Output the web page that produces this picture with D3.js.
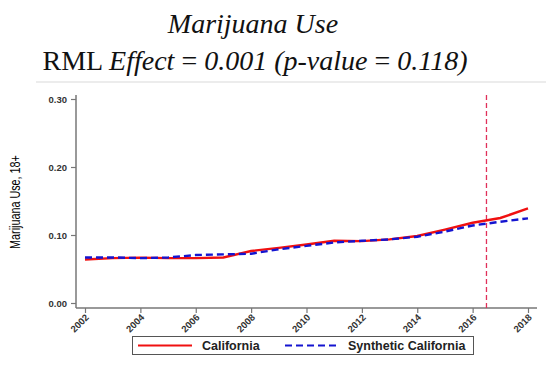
<!DOCTYPE html>
<html>
<head>
<meta charset="utf-8">
<script src="https://cdn.jsdelivr.net/npm/d3@7"></script>
<style>
  html, body { margin: 0; padding: 0; background: #fff; }
  svg { display: block; }
  .ttl { font-family: "Liberation Serif", "Times New Roman", serif; }
</style>
</head>
<body>
<svg id="chart" width="546" height="366"></svg>
<script>
// Annual marijuana use (18+), California vs. synthetic control
const years = d3.range(2002, 2019);
const california = [0.064, 0.066, 0.0667, 0.066, 0.066, 0.067, 0.0765, 0.081, 0.086, 0.0915, 0.091, 0.0935, 0.0985, 0.108, 0.118, 0.125, 0.139];
const synthetic  = [0.067, 0.067, 0.066, 0.067, 0.0705, 0.0715, 0.0725, 0.079, 0.084, 0.089, 0.0915, 0.0935, 0.0975, 0.105, 0.114, 0.1195, 0.1245];
const yTicks = [0, 0.1, 0.2, 0.3];
const xTicks = [2002, 2004, 2006, 2008, 2010, 2012, 2014, 2016, 2018];
const treatmentYear = 2016.5;
const seriesNames = ["California", "Synthetic California"];

const svg = d3.select("#chart");

// Title
const title = svg.append("g")
  .attr("class", "ttl")
  .attr("fill", "#111")
  .attr("text-anchor", "middle");
title.append("text")
  .attr("x", 253).attr("y", 33)
  .attr("font-size", 28).attr("font-style", "italic")
  .text("Marijuana Use");
const t2 = title.append("text")
  .attr("x", 255).attr("y", 70)
  .attr("font-size", 28);
t2.append("tspan").text("RML ");
t2.append("tspan").attr("font-style", "italic").text("Effect ");
t2.append("tspan").text("= ");
t2.append("tspan").attr("font-style", "italic").text("0.001 (p-value ");
t2.append("tspan").text("= ");
t2.append("tspan").attr("font-style", "italic").text("0.118)");

// Faint separator under the title
svg.append("line")
  .attr("x1", 36).attr("x2", 546).attr("y1", 82).attr("y2", 82)
  .attr("stroke", "#ececec").attr("stroke-width", 2);

// Scales
const x = d3.scaleLinear().domain([2002, 2018]).range([85, 528]);
const y = d3.scaleLinear().domain([0, 0.3]).range([303, 99]);

const sans = "'Liberation Sans', Arial, sans-serif";

// Y axis
const yAxis = svg.append("g")
  .attr("transform", "translate(76,0)")
  .call(d3.axisLeft(y).tickValues(yTicks).tickFormat(d3.format(".2f")).tickSize(5).tickSizeOuter(0));
yAxis.select(".domain").attr("d", "M0,95V308").attr("stroke", "#777").attr("stroke-width", 1.5);
yAxis.selectAll(".tick line").attr("stroke", "#777").attr("stroke-width", 1.2);
yAxis.selectAll(".tick text")
  .attr("font-family", sans)
  .attr("font-size", 9.5).attr("font-weight", "bold").attr("fill", "#333")
  .attr("x", -9);

// X axis
const xAxis = svg.append("g")
  .attr("transform", "translate(0,308)")
  .call(d3.axisBottom(x).tickValues(xTicks).tickFormat(d3.format("d")).tickSize(5).tickSizeOuter(0));
xAxis.select(".domain").attr("d", "M76,0H537").attr("stroke", "#777").attr("stroke-width", 1.5);
xAxis.selectAll(".tick line").attr("stroke", "#777").attr("stroke-width", 1.2);
xAxis.selectAll(".tick text")
  .attr("font-family", sans)
  .attr("font-size", 9.5).attr("font-weight", "bold").attr("fill", "#333")
  .attr("text-anchor", "end")
  .attr("dy", null)
  .attr("y", 0)
  .attr("transform", "translate(4,10) rotate(-45)");

// Y axis title (condensed)
svg.append("text")
  .attr("transform", "translate(20,202) rotate(-90) scale(0.72,1)")
  .attr("text-anchor", "middle")
  .attr("font-family", sans)
  .attr("font-size", 15).attr("fill", "#000")
  .text("Marijuana Use, 18+");

// Treatment year marker
svg.append("line")
  .attr("x1", x(treatmentYear)).attr("x2", x(treatmentYear))
  .attr("y1", 95).attr("y2", 308)
  .attr("stroke", "#e0305a").attr("stroke-width", 1.3)
  .attr("stroke-dasharray", "5,3");

// Series lines
const line = d3.line().x((d, i) => x(years[i])).y(d => y(d));
svg.append("path").datum(california)
  .attr("d", line).attr("fill", "none")
  .attr("stroke", "#f01010").attr("stroke-width", 2.4);
svg.append("path").datum(synthetic)
  .attr("d", line).attr("fill", "none")
  .attr("stroke", "#1414d0").attr("stroke-width", 2.4)
  .attr("stroke-dasharray", "7,4");

// Legend
const legend = svg.append("g");
legend.append("rect")
  .attr("x", 132.5).attr("y", 336.5).attr("width", 341).attr("height", 18)
  .attr("fill", "#fff").attr("stroke", "#555").attr("stroke-width", 1);
const items = [
  { name: seriesNames[0], color: "#f01010", dash: null, x0: 138, tx: 202 },
  { name: seriesNames[1], color: "#1414d0", dash: "7,4", x0: 285, tx: 348 }
];
items.forEach(it => {
  legend.append("line")
    .attr("x1", it.x0).attr("x2", it.x0 + 54).attr("y1", 345.5).attr("y2", 345.5)
    .attr("stroke", it.color).attr("stroke-width", 2.2)
    .attr("stroke-dasharray", it.dash);
  legend.append("text")
    .attr("x", it.tx).attr("y", 350)
    .attr("font-family", sans)
    .attr("font-size", 12.5).attr("font-weight", "bold").attr("fill", "#222")
    .text(it.name);
});
</script>
</body>
</html>
